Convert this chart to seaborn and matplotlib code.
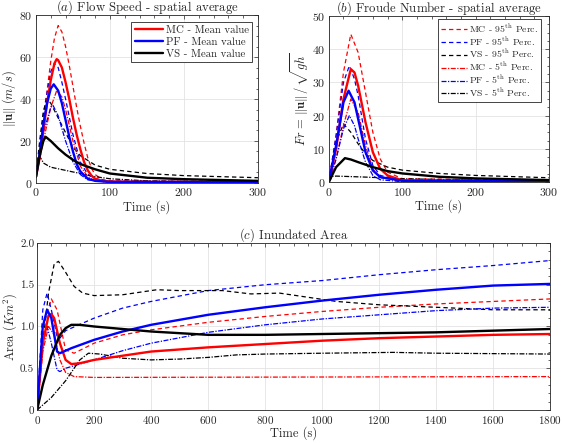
import numpy as np
import pandas as pd
import matplotlib
import matplotlib.pyplot as plt
from matplotlib.ticker import MultipleLocator, FixedLocator, FixedFormatter
import seaborn as sns

matplotlib.use("Agg")

# ── data ──────────────────────────────────────────────────────────────────
# (a) flow speed, spatial average  [m/s]
t_mc_mean_a = [0, 5, 10, 15, 20, 25, 28, 30, 35, 40, 45, 50, 55, 60, 65, 70, 75, 80, 90, 100, 150, 200, 300]
v_mc_mean_a = [3, 12, 25, 38, 49, 57, 59, 58.5, 55, 48, 40, 31, 23, 16, 10, 6, 3.5, 2, 1, 0.7, 0.5, 0.5, 0.5]
t_mc_95_a = [0, 5, 10, 15, 20, 25, 30, 35, 40, 45, 50, 55, 60, 65, 70, 75, 80, 90, 100, 150, 300]
v_mc_95_a = [3, 13, 28, 44, 58, 69, 75, 72, 65, 56, 46, 36, 27, 19, 12, 7, 4, 1.5, 1, 0.8, 0.8]
t_mc_5_a = [0, 10, 20, 28, 35, 40, 50, 60, 70, 80, 100, 300]
v_mc_5_a = [3, 20, 36, 44, 41, 35, 20, 8, 3, 1, 0.3, 0.2]
t_pf_mean_a = [0, 5, 10, 15, 20, 24, 30, 35, 40, 45, 50, 55, 60, 70, 80, 100, 300]
v_pf_mean_a = [3, 14, 28, 38, 45, 47, 44, 38, 30, 22, 15, 9, 5.5, 2, 1, 0.5, 0.4]
t_pf_95_a = [0, 10, 20, 25, 30, 35, 40, 50, 60, 70, 80, 100, 300]
v_pf_95_a = [3, 33, 53, 57, 55, 48, 40, 23, 10, 4, 2, 0.8, 0.6]
t_pf_5_a = [0, 10, 20, 23, 30, 40, 50, 60, 70, 100, 300]
v_pf_5_a = [3, 24, 36, 37, 32, 20, 10, 4, 1.5, 0.3, 0.2]
t_vs_mean_a = [0, 5, 10, 13, 20, 30, 40, 50, 60, 80, 100, 150, 200, 300]
v_vs_mean_a = [3, 13, 20, 22, 20, 16.5, 13.5, 11, 9, 6.5, 4.5, 2.5, 1.8, 1]
t_vs_95_a = [0, 5, 10, 15, 20, 30, 40, 50, 60, 80, 100, 150, 200, 300]
v_vs_95_a = [3, 20, 34, 40, 38, 31, 24, 17, 13, 8.5, 6.5, 4.5, 3.5, 2.5]
t_vs_5_a = [0, 5, 8, 10, 20, 40, 60, 80, 100, 150, 300]
v_vs_5_a = [3, 12.5, 11, 9.5, 7.5, 6, 4.5, 3, 2, 1, 0.3]

# (b) Froude number, spatial average
t_mc_mean_b = [0, 10, 20, 30, 35, 40, 50, 60, 70, 80, 100, 300]
v_mc_mean_b = [0, 10, 25, 34, 33, 29, 18, 9, 4, 2, 0.5, 0.3]
t_mc_95_b = [0, 10, 20, 30, 40, 50, 60, 70, 80, 100, 300]
v_mc_95_b = [0, 14, 33, 44.5, 39, 27, 15, 7, 3, 1, 0.5]
t_mc_5_b = [0, 10, 20, 30, 40, 50, 60, 70, 100, 300]
v_mc_5_b = [0, 7, 17, 25, 21, 11, 4, 1.5, 0.2, 0.1]
t_pf_mean_b = [0, 10, 20, 27, 35, 40, 50, 60, 70, 100, 300]
v_pf_mean_b = [0, 11, 24, 27.5, 24, 19, 9, 3.5, 1.5, 0.4, 0.3]
t_pf_95_b = [0, 10, 20, 28, 35, 40, 50, 60, 70, 100, 300]
v_pf_95_b = [0, 14, 30, 35, 31, 26, 13, 5, 2, 0.5, 0.3]
t_pf_5_b = [0, 10, 20, 28, 35, 40, 50, 60, 70, 100, 300]
v_pf_5_b = [0, 7, 16, 20, 17, 13, 6, 2, 0.7, 0.1, 0.1]
t_vs_mean_b = [0, 10, 22, 30, 40, 60, 80, 100, 150, 200, 300]
v_vs_mean_b = [0, 4.5, 7.2, 6.8, 6, 4.5, 3.3, 2.6, 1.6, 1.1, 0.6]
t_vs_95_b = [0, 10, 20, 30, 40, 50, 60, 80, 100, 150, 200, 300]
v_vs_95_b = [0, 12, 17.5, 15, 11.5, 8.5, 6.5, 4.5, 3.6, 2.6, 2, 1.3]
t_vs_5_b = [0, 5, 10, 50, 100, 200, 300]
v_vs_5_b = [0, 1.7, 1.8, 1.5, 1.0, 0.6, 0.4]

# (c) inundated area  [km^2]
t_mc_mean_c = [0, 20, 40, 50, 60, 80, 100, 120, 150, 200, 400, 600, 800, 1000, 1200, 1400, 1600, 1800]
v_mc_mean_c = [0, 0.8, 1.13, 1.15, 1.1, 0.8, 0.6, 0.55, 0.56, 0.6, 0.7, 0.75, 0.79, 0.83, 0.86, 0.88, 0.9, 0.91]
t_mc_95_c = [0, 20, 50, 70, 100, 130, 200, 300, 400, 600, 800, 1000, 1200, 1400, 1600, 1800]
v_mc_95_c = [0, 1.0, 1.33, 1.2, 0.72, 0.68, 0.8, 0.9, 0.96, 1.05, 1.12, 1.18, 1.23, 1.27, 1.3, 1.33]
t_mc_5_c = [0, 20, 40, 60, 80, 100, 130, 200, 1800]
v_mc_5_c = [0, 0.7, 1.0, 0.9, 0.6, 0.45, 0.4, 0.39, 0.4]
t_pf_mean_c = [0, 20, 35, 50, 70, 80, 120, 200, 300, 400, 600, 800, 1000, 1200, 1400, 1600, 1800]
v_pf_mean_c = [0, 1.0, 1.2, 1.1, 0.7, 0.68, 0.74, 0.84, 0.94, 1.02, 1.14, 1.23, 1.31, 1.38, 1.44, 1.49, 1.51]
t_pf_95_c = [0, 20, 35, 50, 70, 80, 100, 200, 300, 400, 600, 800, 1000, 1200, 1400, 1600, 1800]
v_pf_95_c = [0, 1.2, 1.4, 1.2, 0.88, 0.86, 0.95, 1.1, 1.22, 1.3, 1.43, 1.5, 1.55, 1.62, 1.68, 1.73, 1.79]
t_pf_5_c = [0, 20, 35, 50, 70, 80, 100, 200, 300, 400, 600, 800, 1000, 1200, 1400, 1600, 1800]
v_pf_5_c = [0, 0.8, 1.0, 0.8, 0.48, 0.46, 0.5, 0.6, 0.71, 0.8, 0.93, 1.02, 1.09, 1.14, 1.19, 1.22, 1.23]
t_vs_mean_c = [0, 20, 50, 80, 100, 120, 150, 200, 300, 400, 500, 600, 800, 1000, 1200, 1400, 1600, 1800]
v_vs_mean_c = [0, 0.3, 0.65, 0.9, 0.98, 1.02, 1.02, 1.0, 0.97, 0.94, 0.92, 0.9, 0.9, 0.91, 0.92, 0.93, 0.95, 0.97]
t_vs_95_c = [0, 20, 40, 60, 75, 100, 130, 160, 200, 300, 420, 500, 650, 700, 750, 850, 950, 1050, 1200, 1400, 1600, 1800]
v_vs_95_c = [0, 0.8, 1.4, 1.75, 1.78, 1.65, 1.48, 1.4, 1.37, 1.38, 1.44, 1.43, 1.43, 1.41, 1.39, 1.4, 1.35, 1.3, 1.26, 1.23, 1.2, 1.2]
t_vs_5_c = [0, 50, 100, 150, 180, 220, 300, 400, 500, 600, 700, 800, 1000, 1250, 1400, 1800]
v_vs_5_c = [0, 0.15, 0.35, 0.6, 0.68, 0.67, 0.62, 0.6, 0.61, 0.63, 0.66, 0.67, 0.68, 0.69, 0.68, 0.67]

RED, BLUE, BLACK = "#ff0000", "#0000ff", "#000000"
MEAN_STYLE = dict(linestyle="-", linewidth=1.7)
P95_STYLE = dict(linestyle=(0, (3.5, 2.5)), linewidth=0.9)
P5_STYLE = dict(linestyle=(0, (4, 1.2, 1, 1.2)), linewidth=0.9)

TICK_FS = 8.5
LABEL_FS = 9
TITLE_FS = 9.2

sns.set_theme(style="whitegrid")
plt.rcParams["font.family"] = ["cmr10", "DejaVu Serif"]
plt.rcParams["mathtext.fontset"] = "cm"
plt.rcParams["axes.formatter.use_mathtext"] = True
plt.rcParams["axes.unicode_minus"] = False


def _series(ax, t, v, color, style, label=None):
    df = pd.DataFrame({"t": t, "v": v})
    sns.lineplot(data=df, x="t", y="v", ax=ax, color=color, label=label,
                 legend=False, **style)


def _style_axes(ax):
    ax.set_facecolor("white")
    ax.grid(True, color="#e3e3e3", linewidth=0.6)
    for sp in ax.spines.values():
        sp.set_color("#262626")
        sp.set_linewidth(0.6)
    ax.tick_params(which="both", direction="in", top=True, right=True,
                   color="#262626", labelsize=TICK_FS, pad=2.5)
    ax.tick_params(which="major", length=3, width=0.5)
    ax.tick_params(which="minor", length=1.8, width=0.5)


def _legend(ax, handles_labels, bbox, fs=7.8, spacing=0.15):
    handles = [h for h, _ in handles_labels]
    labels = [l for _, l in handles_labels]
    leg = ax.legend(handles, labels, loc="upper right", bbox_to_anchor=bbox,
                    fontsize=fs, handlelength=2.6, handletextpad=0.3,
                    labelspacing=spacing, borderpad=0.3, borderaxespad=0.0,
                    fancybox=False, framealpha=1, edgecolor="#262626")
    leg.get_frame().set_linewidth(0.6)


fig = plt.figure(figsize=(5.62, 4.43), dpi=100)
ax_a = fig.add_axes([0.064, 0.587, 0.395, 0.379])
ax_b = fig.add_axes([0.585, 0.589, 0.392, 0.375])
ax_c = fig.add_axes([0.066, 0.0745, 0.913, 0.377])

# ── (a) ──
_series(ax_a, t_mc_95_a, v_mc_95_a, RED, P95_STYLE)
_series(ax_a, t_pf_95_a, v_pf_95_a, BLUE, P95_STYLE)
_series(ax_a, t_vs_95_a, v_vs_95_a, BLACK, P95_STYLE)
_series(ax_a, t_mc_5_a, v_mc_5_a, RED, P5_STYLE)
_series(ax_a, t_pf_5_a, v_pf_5_a, BLUE, P5_STYLE)
_series(ax_a, t_vs_5_a, v_vs_5_a, BLACK, P5_STYLE)
_series(ax_a, t_mc_mean_a, v_mc_mean_a, RED, MEAN_STYLE)
_series(ax_a, t_pf_mean_a, v_pf_mean_a, BLUE, MEAN_STYLE)
_series(ax_a, t_vs_mean_a, v_vs_mean_a, BLACK, MEAN_STYLE)
ax_a.set_xlim(0, 300)
ax_a.set_ylim(0, 80)
ax_a.xaxis.set_major_locator(MultipleLocator(100))
ax_a.xaxis.set_minor_locator(MultipleLocator(20))
ax_a.yaxis.set_major_locator(MultipleLocator(20))
ax_a.yaxis.set_minor_locator(MultipleLocator(5))
ax_a.set_title(r"$(a)$ Flow Speed - spatial average", fontsize=TITLE_FS, pad=3)
ax_a.set_xlabel("Time (s)", fontsize=LABEL_FS, labelpad=1)
ax_a.set_ylabel(r"$\|\mathbf{u}\|\ (m/s)$", fontsize=LABEL_FS, labelpad=1)
_style_axes(ax_a)
_legend(ax_a, [
    (plt.Line2D([], [], color=RED, linewidth=1.7), "MC - Mean value"),
    (plt.Line2D([], [], color=BLUE, linewidth=1.7), "PF - Mean value"),
    (plt.Line2D([], [], color=BLACK, linewidth=1.7), "VS - Mean value"),
], (0.975, 0.96), fs=7.8, spacing=0.25)

# ── (b) ──
_series(ax_b, t_mc_95_b, v_mc_95_b, RED, P95_STYLE)
_series(ax_b, t_pf_95_b, v_pf_95_b, BLUE, P95_STYLE)
_series(ax_b, t_vs_95_b, v_vs_95_b, BLACK, P95_STYLE)
_series(ax_b, t_mc_5_b, v_mc_5_b, RED, P5_STYLE)
_series(ax_b, t_pf_5_b, v_pf_5_b, BLUE, P5_STYLE)
_series(ax_b, t_vs_5_b, v_vs_5_b, BLACK, P5_STYLE)
_series(ax_b, t_mc_mean_b, v_mc_mean_b, RED, MEAN_STYLE)
_series(ax_b, t_pf_mean_b, v_pf_mean_b, BLUE, MEAN_STYLE)
_series(ax_b, t_vs_mean_b, v_vs_mean_b, BLACK, MEAN_STYLE)
ax_b.set_xlim(0, 300)
ax_b.set_ylim(0, 50)
ax_b.xaxis.set_major_locator(MultipleLocator(100))
ax_b.xaxis.set_minor_locator(MultipleLocator(20))
ax_b.yaxis.set_major_locator(MultipleLocator(10))
ax_b.yaxis.set_minor_locator(MultipleLocator(2.5))
ax_b.set_title(r"$(b)$ Froude Number - spatial average", fontsize=TITLE_FS, pad=3)
ax_b.set_xlabel("Time (s)", fontsize=LABEL_FS, labelpad=1)
ax_b.set_ylabel(r"$Fr\,=\,\|\mathbf{u}\|\,/\,\sqrt{gh}$", fontsize=LABEL_FS, labelpad=1)
_style_axes(ax_b)
_legend(ax_b, [
    (plt.Line2D([], [], color=RED, **P95_STYLE), r"MC - 95$^{\mathrm{th}}$ Perc."),
    (plt.Line2D([], [], color=BLUE, **P95_STYLE), r"PF - 95$^{\mathrm{th}}$ Perc."),
    (plt.Line2D([], [], color=BLACK, **P95_STYLE), r"VS - 95$^{\mathrm{th}}$ Perc."),
    (plt.Line2D([], [], color=RED, **P5_STYLE), r"MC - 5$^{\mathrm{th}}$ Perc."),
    (plt.Line2D([], [], color=BLUE, **P5_STYLE), r"PF - 5$^{\mathrm{th}}$ Perc."),
    (plt.Line2D([], [], color=BLACK, **P5_STYLE), r"VS - 5$^{\mathrm{th}}$ Perc."),
], (0.965, 0.98), fs=7.0, spacing=0.02)

# ── (c) ──
_series(ax_c, t_mc_95_c, v_mc_95_c, RED, P95_STYLE)
_series(ax_c, t_pf_95_c, v_pf_95_c, BLUE, P95_STYLE)
_series(ax_c, t_vs_95_c, v_vs_95_c, BLACK, P95_STYLE)
_series(ax_c, t_mc_5_c, v_mc_5_c, RED, P5_STYLE)
_series(ax_c, t_pf_5_c, v_pf_5_c, BLUE, P5_STYLE)
_series(ax_c, t_vs_5_c, v_vs_5_c, BLACK, P5_STYLE)
_series(ax_c, t_mc_mean_c, v_mc_mean_c, RED, MEAN_STYLE)
_series(ax_c, t_pf_mean_c, v_pf_mean_c, BLUE, MEAN_STYLE)
_series(ax_c, t_vs_mean_c, v_vs_mean_c, BLACK, MEAN_STYLE)
ax_c.set_xlim(0, 1800)
ax_c.set_ylim(0, 2.0)
ax_c.xaxis.set_major_locator(MultipleLocator(200))
ax_c.xaxis.set_minor_locator(MultipleLocator(50))
ax_c.yaxis.set_major_locator(FixedLocator([0, 0.5, 1.0, 1.5, 2.0]))
ax_c.yaxis.set_major_formatter(FixedFormatter(["0", "0.5", "1.0", "1.5", "2.0"]))
ax_c.yaxis.set_minor_locator(MultipleLocator(0.1))
ax_c.set_title(r"$(c)$ Inundated Area", fontsize=TITLE_FS, pad=3)
_style_axes(ax_c)
ax_c.tick_params(axis="x", labelsize=8, pad=3)
ax_c.tick_params(axis="y", labelsize=8, pad=2)
ax_c.set_xlabel("Time (s)", fontsize=LABEL_FS, labelpad=0)
ax_c.set_ylabel(r"Area $(Km^2)$", fontsize=LABEL_FS, labelpad=1)

fig.savefig("out.png", dpi=100)
plt.close(fig)
